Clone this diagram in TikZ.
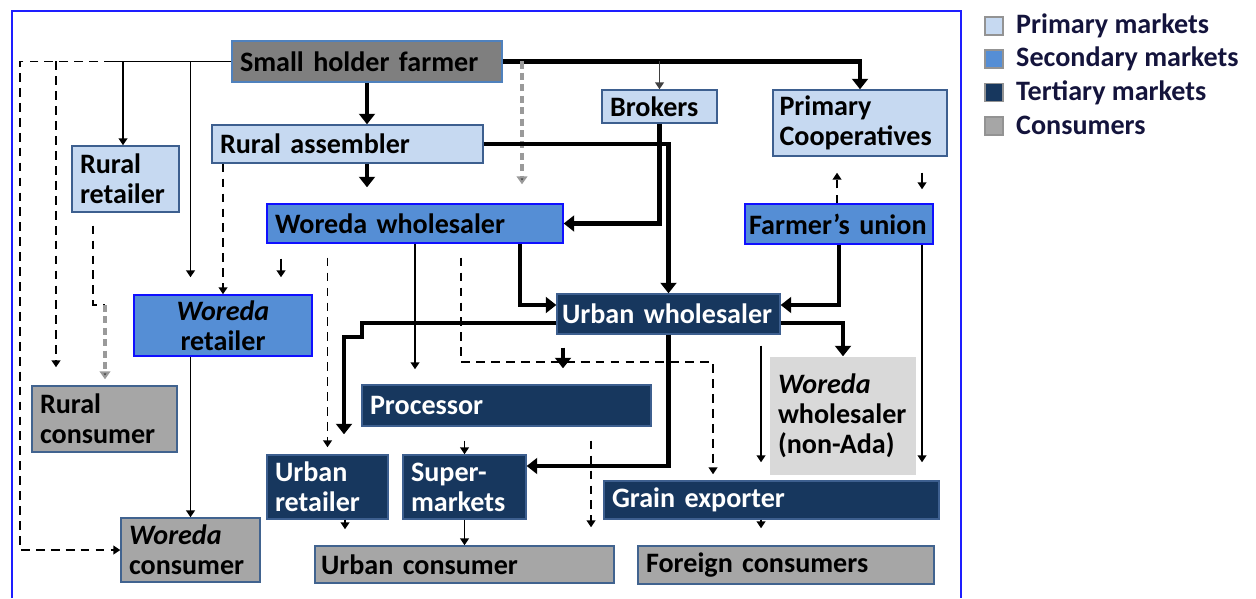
\documentclass[tikz,border=0pt]{standalone}
\usepackage{fontspec}
\setmainfont{Carlito}
\usepackage{tikz}
\usetikzlibrary{arrows.meta,%
                shapes,positioning}
\definecolor{primary}{HTML}{C6D9F1}
\definecolor{primaryline}{HTML}{3D5F8F}
\definecolor{secondary}{HTML}{558ED5}
\definecolor{secondaryline}{HTML}{1010FF}
\definecolor{tertiary}{HTML}{17375E}
\definecolor{tertiaryline}{HTML}{3D5F8F}
\definecolor{consumer}{HTML}{A6A6A6}
\definecolor{consumerline}{HTML}{41638F}
\definecolor{farmerfill}{HTML}{7F7F7F}
\definecolor{farmerline}{HTML}{4F81BD}
\definecolor{nonada}{HTML}{D9D9D9}
\definecolor{framecol}{HTML}{1E1EFF}
\definecolor{greydash}{HTML}{9A9A9A}
\definecolor{keytext}{HTML}{14143C}

\begin{document}
\begin{tikzpicture}[x = 0.02cm, y = -0.02cm]
  \useasboundingbox (0,0) rectangle (1256,598);
  \tikzset{BoxStyle/.style       = {draw,
                                    line width     = 0.8pt,
                                    align          = left,
                                    inner xsep     = 0.16cm,
                                    inner ysep     = 0pt,
                                    text           = black,
                                    font           = \bfseries\fontsize{16}{17}\selectfont}}
  \tikzset{PrimaryStyle/.style   = {BoxStyle,
                                    fill           = primary,
                                    draw           = primaryline}}
  \tikzset{SecondaryStyle/.style = {BoxStyle,
                                    fill           = secondary,
                                    draw           = secondaryline}}
  \tikzset{TertiaryStyle/.style  = {BoxStyle,
                                    fill           = tertiary,
                                    draw           = tertiaryline,
                                    text           = white}}
  \tikzset{ConsumerStyle/.style  = {BoxStyle,
                                    fill           = consumer,
                                    draw           = consumerline}}
  \tikzset{KeyStyle/.style       = {draw           = gray!85,
                                    line width     = 1pt,
                                    minimum size   = 0.36cm,
                                    inner sep      = 0pt}}
  \tikzset{KeyText/.style        = {inner sep      = 0pt,
                                    text           = keytext,
                                    font           = \bfseries\fontsize{16}{17}\selectfont}}
  \tikzset{ThinLine/.style       = {line width     = 1.1pt}}
  \tikzset{ThinArrow/.style      = {ThinLine,
                                    -{Triangle[width=5pt,length=4pt]}}}
  \tikzset{ThickArrow/.style     = {line width     = 2.3pt,
                                    -{Triangle[width=9pt,length=6pt]}}}
  \tikzset{DashLine/.style       = {line width     = 1.1pt,
                                    dash pattern   = on 5pt off 3.5pt}}
  \tikzset{DashArrow/.style      = {DashLine,
                                    -{Triangle[width=5pt,length=4pt]}}}
  \tikzset{GreyDash/.style       = {draw           = greydash,
                                    line width     = 1.8pt,
                                    dash pattern   = on 4pt off 2.5pt,
                                    -{Triangle[width=6pt,length=4.5pt,fill=black!70]}}}
  % outer frame, open at the bottom
  \draw[framecol, line width = 1.2pt] (12,598) -- (12,11) -- (961,11) -- (961,598);
  % markets
  \node[BoxStyle, fill = farmerfill, draw = farmerline,
        text width = 5.08cm, minimum height = 0.82cm] (farmer) at (367,61.5) {Small holder farmer};
  \node[PrimaryStyle, text width = 5.10cm, minimum height = 0.76cm] (rassem) at (347.5,144) {Rural assembler};
  \node[PrimaryStyle, text width = 1.98cm, minimum height = 0.66cm] (brokers) at (659.5,106.5) {Brokers};
  \node[PrimaryStyle, text width = 3.22cm, minimum height = 1.32cm,
        inner xsep = 0.13cm] (pcoop) at (860,123) {Primary\\Cooperatives};
  \node[PrimaryStyle, text width = 1.82cm, minimum height = 1.32cm] (rretail) at (125.5,179) {Rural\\retailer};
  \node[SecondaryStyle, text width = 5.60cm, minimum height = 0.78cm] (wwhole) at (415,223.5) {Woreda wholesaler};
  \node[SecondaryStyle, text width = 3.60cm, minimum height = 0.80cm,
        inner xsep = 0.08cm] (funion) at (839,224) {Farmer’s union};
  \node[SecondaryStyle, text width = 3.24cm, minimum height = 1.22cm,
        align = center] (wretail) at (223,325.5) {\textit{Woreda}\\retailer};
  \node[TertiaryStyle, text width = 4.26cm, minimum height = 0.80cm,
        inner xsep = 0.10cm] (uwhole) at (668.5,314) {Urban wholesaler};
  \node[ConsumerStyle, text width = 2.58cm, minimum height = 1.32cm] (rcons) at (104.5,419) {Rural\\consumer};
  \node[TertiaryStyle, text width = 5.46cm, minimum height = 0.82cm] (proc) at (506.5,405.5) {Processor};
  \node[BoxStyle, draw = none, fill = nonada,
        text width = 2.60cm, minimum height = 2.36cm] (nonada) at (843,416) {\textit{Woreda}\\wholesaler\\(non-Ada)};
  \node[TertiaryStyle, text width = 2.10cm, minimum height = 1.28cm] (uretail) at (327.5,487) {Urban\\retailer};
  \node[TertiaryStyle, text width = 2.14cm, minimum height = 1.28cm] (smarket) at (464.5,487) {Super-\\markets};
  \node[TertiaryStyle, text width = 6.38cm, minimum height = 0.76cm] (gexport) at (771.5,500) {Grain exporter};
  \node[ConsumerStyle, text width = 2.46cm, minimum height = 1.28cm] (wcons) at (190.5,550) {\textit{Woreda}\\consumer};
  \node[ConsumerStyle, text width = 5.74cm, minimum height = 0.74cm,
        inner xsep = 0.12cm] (ucons) at (464.5,564.5) {Urban consumer};
  \node[ConsumerStyle, text width = 5.60cm, minimum height = 0.76cm] (fcons) at (786,565) {Foreign consumers};
  % key
  \node[KeyStyle, fill = primary] (kprim) at (994,26) {};
  \node[KeyStyle, fill = secondary, below = 0.27cm of kprim] (ksec) {};
  \node[KeyStyle, fill = tertiary, below = 0.27cm of ksec] (ktert) {};
  \node[KeyStyle, fill = consumer, below = 0.27cm of ktert] (kcons) {};
  \node[KeyText, right = 0.24cm of kprim] (tprim) {Primary markets};
  \node[KeyText, right = 0.24cm of ksec] (tsec) {Secondary markets};
  \node[KeyText, right = 0.24cm of ktert] (ttert) {Tertiary markets};
  \node[KeyText, right = 0.24cm of kcons] (tcons) {Consumers};
  % flows on the left
  \draw[ThinLine] (farmer.west) -- (113,61.5) coordinate (lsplit);
  \draw[DashArrow] (lsplit) -- (20,61.5) |- (wcons.west);
  \draw[DashArrow, shorten >= 0.36cm] (lsplit -| 56,0) -- (rcons.north -| 56,0);
  \draw[ThinArrow] (farmer.west -| 123,0) -- (rretail.north -| 123,0);
  \draw[ThinArrow, shorten >= 0.34cm] (farmer.west -| wcons.north) -- (wretail.north -| wcons.north);
  \draw[DashLine, shorten <= 0.26cm] (rretail.south -| 93,0) -- (93,305) -- (105,305) coordinate (rjog);
  \draw[GreyDash, shorten >= 0.12cm] (rjog) -- (rcons.north -| rjog);
  \draw[DashArrow] (rassem.south -| wretail.north) -- (wretail.north);
  \draw[ThinArrow, shorten <= 0.30cm, shorten >= 0.34cm] (wwhole.south -| 281,0) -- (wretail.north -| 281,0);
  \draw[ThinArrow] (wretail.south -| wcons.north) -- (wcons.north);
  % flows from the farmer
  \draw[ThickArrow] (farmer.south) -- (rassem.north -| farmer.south);
  \draw[ThickArrow, shorten >= 0.32cm] (rassem.south -| farmer.south) -- (wwhole.north -| farmer.south);
  \draw[ThickArrow] (farmer.east) -| (pcoop.north);
  \draw[ThinArrow, black!75] (farmer.east -| brokers.north) -- (brokers.north);
  \draw[GreyDash, shorten >= 0.38cm] (farmer.east -| 522,0) -- (wwhole.north -| 522,0);
  \draw[ThickArrow] (brokers.south) |- (wwhole.east);
  \draw[ThickArrow] (rassem.east) -| (uwhole.north);
  % cooperatives
  \draw[DashArrow, shorten >= 0.32cm] (funion.north -| 837,0) -- (pcoop.south -| 837,0);
  \draw[ThinArrow, shorten <= 0.32cm, shorten >= 0.28cm] (pcoop.south -| 922,0) -- (funion.north -| 922,0);
  \draw[ThinArrow, shorten >= 0.36cm] (funion.south -| 922,0) -- (gexport.north -| 922,0);
  \draw[ThickArrow] (funion.south) |- (uwhole.east |- 0,305);
  % woreda wholesaler
  \draw[ThickArrow] (wwhole.south -| 520,0) |- (uwhole.west |- 0,305);
  \draw[ThinArrow, shorten >= 0.30cm] (wwhole.south) -- (proc.north -| wwhole.south);
  \draw[DashArrow, shorten <= 0.28cm, shorten >= 0.14cm] (wwhole.south -| uretail.north) -- (uretail.north);
  \draw[DashArrow, shorten <= 0.28cm, shorten >= 0.12cm] (wwhole.south -| 461,0) |- (713,362) -- (gexport.north -| 713,0);
  % urban wholesaler
  \draw[ThickArrow, shorten >= 0.40cm] (uwhole.west |- 0,323) -- (362,323) -- (362,337) -- (344,337) -- (uretail.north -| 344,0);
  \draw[ThickArrow] (uwhole.east |- 0,323) -| (nonada.north);
  \draw[ThickArrow] (uwhole.south) |- (smarket.east |- 0,466);
  \draw[ThickArrow, shorten <= 0.26cm, shorten >= 0.32cm] (uwhole.south -| 563,0) -- (proc.north -| 563,0);
  \draw[ThinArrow, shorten <= 0.22cm, shorten >= 0.36cm] (uwhole.south -| 761,0) -- (gexport.north -| 761,0);
  % to consumers
  \draw[ThinArrow, shorten <= 0.28cm] (proc.south -| smarket.north) -- (smarket.north);
  \draw[DashArrow, shorten <= 0.28cm, shorten >= 0.36cm] (proc.south -| 591,0) -- (ucons.north -| 591,0);
  \draw[ThinArrow, shorten >= 0.32cm] (uretail.south -| 345,0) -- (ucons.north -| 345,0);
  \draw[ThinArrow] (smarket.south) -- (ucons.north -| smarket.south);
  \draw[ThinArrow, shorten >= 0.34cm] (gexport.south -| 761,0) -- (fcons.north -| 761,0);
\end{tikzpicture}
\end{document}
